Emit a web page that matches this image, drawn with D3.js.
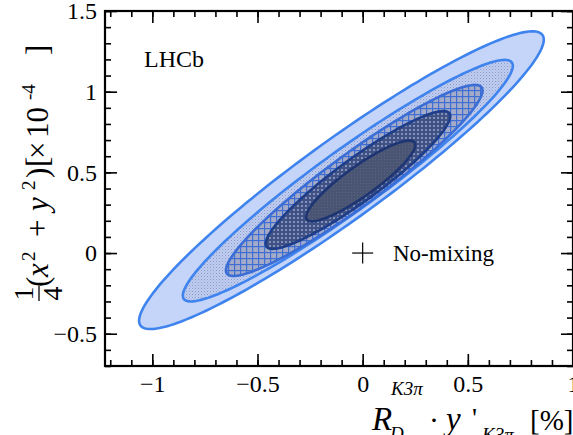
<!DOCTYPE html>
<html>
<head>
<meta charset="utf-8">
<script src="https://cdn.jsdelivr.net/npm/d3@7"></script>
<style>
  html, body { margin: 0; padding: 0; background: #fff; }
  svg { display: block; }
  text { font-family: "Liberation Serif", "Times New Roman", serif; fill: #000; }
</style>
</head>
<body>
<svg id="chart" width="573" height="435"></svg>
<script>
// ---------- data ----------
const xMajorTicks = [-1, -0.5, 0, 0.5, 1];
const xTickLabels = ["\u22121", "\u22120.5", "0", "0.5", "1"];
const yMajorTicks = [-0.5, 0, 0.5, 1, 1.5];
const yTickLabels = ["\u22120.5", "0", "0.5", "1", "1.5"];

// contour regions (innermost 1 -> outermost 5): bounding box and correlation
const contourNames = ["1σ", "2σ", "3σ", "4σ", "5σ"];
const contourXmin = [-0.269, -0.461, -0.650, -0.855, -1.063];
const contourXmax = [0.250, 0.416, 0.570, 0.714, 0.861];
const contourYmin = [0.197, 0.026, -0.142, -0.300, -0.471];
const contourYmax = [0.697, 0.880, 1.042, 1.197, 1.374];
const contourRho  = [0.892, 0.925, 0.941, 0.951, 0.944];

const noMixingPoint = { x: 0, y: 0, label: "No-mixing" };

// ---------- layout ----------
const svg = d3.select("#chart");
const L = 105, R = 573, T = 11, B = 366;
const x = d3.scaleLinear().domain([-1.225, 1.0]).range([L, R]);
const y = d3.scaleLinear().domain([-0.7, 1.5]).range([B, T]);

const defs = svg.append("defs");
defs.append("clipPath").attr("id", "clip").append("rect")
  .attr("x", L).attr("y", T).attr("width", R - L).attr("height", B - T);

// patterns
const p4 = defs.append("pattern").attr("id", "pat4").attr("patternUnits", "userSpaceOnUse")
  .attr("width", 3).attr("height", 3);
p4.append("rect").attr("width", 3).attr("height", 3).attr("fill", "#bfcdf2");
p4.append("rect").attr("width", 1).attr("height", 1).attr("fill", "#8d9ac4");
p4.append("rect").attr("x", 1.5).attr("y", 1.5).attr("width", 1).attr("height", 1).attr("fill", "#a3b0d8");

const p3 = defs.append("pattern").attr("id", "pat3").attr("patternUnits", "userSpaceOnUse")
  .attr("width", 6).attr("height", 6);
p3.append("rect").attr("width", 6).attr("height", 6).attr("fill", "#a4abc9");
p3.append("rect").attr("x", 0).attr("y", 0).attr("width", 6).attr("height", 1.2).attr("fill", "#3f6fd3");
p3.append("rect").attr("x", 0).attr("y", 0).attr("width", 1.2).attr("height", 6).attr("fill", "#3f6fd3");

const p2 = defs.append("pattern").attr("id", "pat2").attr("patternUnits", "userSpaceOnUse")
  .attr("width", 4).attr("height", 4);
p2.append("rect").attr("width", 4).attr("height", 4).attr("fill", "#3f5185");
p2.append("rect").attr("x", 1).attr("y", 1).attr("width", 2).attr("height", 2).attr("fill", "#8391b8");

const p1 = defs.append("pattern").attr("id", "pat1").attr("patternUnits", "userSpaceOnUse")
  .attr("width", 3).attr("height", 3);
p1.append("rect").attr("width", 3).attr("height", 3).attr("fill", "#4a5473");
p1.append("rect").attr("width", 1).attr("height", 1).attr("fill", "#5a6482");

const fills = ["url(#pat1)", "url(#pat2)", "url(#pat3)", "url(#pat4)", "#c5d5f9"];
const strokes = ["#1d3572", "#1f3e8a", "#3a6ed6", "#3f84ee", "#3f84ee"];

function ellipsePoints(i) {
  const cx = (contourXmin[i] + contourXmax[i]) / 2, cy = (contourYmin[i] + contourYmax[i]) / 2;
  const ax = (contourXmax[i] - contourXmin[i]) / 2, ay = (contourYmax[i] - contourYmin[i]) / 2;
  const r = contourRho[i], s = Math.sqrt(1 - r * r);
  return d3.range(0, 361, 2).map(d => {
    const t = d * Math.PI / 180;
    return [cx + ax * Math.cos(t), cy + ay * (r * Math.cos(t) + s * Math.sin(t))];
  });
}
const line = d3.line().x(d => x(d[0])).y(d => y(d[1])).curve(d3.curveLinearClosed);

const gC = svg.append("g").attr("clip-path", "url(#clip)");
const order = [4, 3, 2, 1, 0];
gC.selectAll("path.c").data(order).join("path")
  .attr("class", "c")
  .attr("d", i => line(ellipsePoints(i)))
  .attr("fill", i => fills[i])
  .attr("stroke", i => strokes[i])
  .attr("stroke-width", 2.6)
  .attr("stroke-linejoin", "round");

// ---------- axes ----------
const xMinor = d3.range(-12, 11).map(k => k / 10);
const yMinor = d3.range(-7, 16).map(k => k / 10);
const tickStyle = g => {
  g.select(".domain").remove();
  g.selectAll(".tick line").attr("stroke", "#000").attr("stroke-width", 1.6);
  g.selectAll(".tick text").style("font-family", "Liberation Serif, serif").style("font-size", "24px").attr("fill", "#000");
};

svg.append("g").attr("transform", `translate(0,${B})`)
  .call(d3.axisBottom(x).tickValues(xMinor).tickSize(-6).tickFormat("")).call(tickStyle);
svg.append("g").attr("transform", `translate(0,${B})`)
  .call(d3.axisBottom(x).tickValues(xMajorTicks).tickSize(-12).tickPadding(9)
    .tickFormat((d, i) => xTickLabels[i])).call(tickStyle);
svg.append("g").attr("transform", `translate(0,${T})`)
  .call(d3.axisTop(x).tickValues(xMinor).tickSize(-6).tickFormat("")).call(tickStyle);
svg.append("g").attr("transform", `translate(0,${T})`)
  .call(d3.axisTop(x).tickValues(xMajorTicks).tickSize(-12).tickFormat("")).call(tickStyle);

svg.append("g").attr("transform", `translate(${L},0)`)
  .call(d3.axisLeft(y).tickValues(yMinor).tickSize(-6).tickFormat("")).call(tickStyle);
svg.append("g").attr("transform", `translate(${L},0)`)
  .call(d3.axisLeft(y).tickValues(yMajorTicks).tickSize(-12).tickPadding(8)
    .tickFormat((d, i) => yTickLabels[i])).call(tickStyle);
svg.append("g").attr("transform", `translate(${R},0)`)
  .call(d3.axisRight(y).tickValues(yMinor).tickSize(-6).tickFormat("")).call(tickStyle);
svg.append("g").attr("transform", `translate(${R},0)`)
  .call(d3.axisRight(y).tickValues(yMajorTicks).tickSize(-12).tickFormat("")).call(tickStyle);

svg.append("rect").attr("x", L).attr("y", T).attr("width", R - L).attr("height", B - T)
  .attr("fill", "none").attr("stroke", "#000").attr("stroke-width", 2.2);

// ---------- annotations ----------
svg.append("text").attr("x", 144).attr("y", 67).style("font-size", "24px").text("LHCb");

const px = x(noMixingPoint.x), py = y(noMixingPoint.y);
svg.append("line").attr("x1", px - 10.5).attr("x2", px + 10.5).attr("y1", py).attr("y2", py)
  .attr("stroke", "#000").attr("stroke-width", 1.2);
svg.append("line").attr("x1", px).attr("x2", px).attr("y1", py - 10.5).attr("y2", py + 10.5)
  .attr("stroke", "#000").attr("stroke-width", 1.2);
svg.append("text").attr("x", 393).attr("y", 261).style("font-size", "23px").text(noMixingPoint.label);

// ---------- x title ----------
const xt = svg.append("g");
const piece = (g, txt, xx, yy, size, italic) => g.append("text").attr("x", xx).attr("y", yy)
  .style("font-size", size + "px").style("font-style", italic ? "italic" : "normal").text(txt);
piece(xt, "R", 372, 430, 33, true);
piece(xt, "K3π", 391, 395, 19, true);
piece(xt, "D", 390, 440, 19, true);
piece(xt, "·", 429, 430, 30, false);
piece(xt, "y", 446, 430, 33, true);
piece(xt, "'", 472, 427, 28, false);
piece(xt, "K3π", 482, 441, 19, true);
piece(xt, "[%]", 530, 430, 29, false);

// ---------- y title (rotated) ----------
const yt = svg.append("g").attr("transform", "translate(48,0) rotate(-90)");
piece(yt, "1", -293.5, -15, 28, false).attr("text-anchor", "middle");
piece(yt, "4", -293.5, 14, 28, false).attr("text-anchor", "middle");
yt.append("line").attr("x1", -301).attr("x2", -286).attr("y1", -9).attr("y2", -9)
  .attr("stroke", "#000").attr("stroke-width", 1.3);
piece(yt, "(", -287, 0, 31, false);
piece(yt, "x", -277, 0, 31, true);
piece(yt, "2", -261, -13, 19, false);
piece(yt, "+", -237, 0, 31, false);
piece(yt, "y", -211, 0, 31, true);
piece(yt, "2", -190, -13, 19, false);
piece(yt, ")", -178, 0, 31, false);
piece(yt, "[", -167, 0, 31, false);
piece(yt, "×", -159, 0, 31, false);
piece(yt, "10", -138, 0, 31, false);
piece(yt, "-4", -100, -13, 19, false);
piece(yt, "]", -55, 0, 31, false);
</script>
</body>
</html>
